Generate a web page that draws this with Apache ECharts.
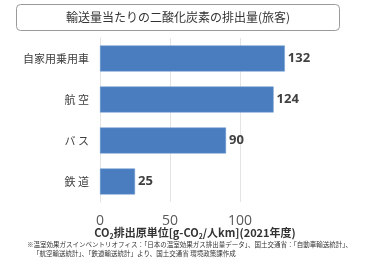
<!DOCTYPE html>
<html><head><meta charset="utf-8">
<script src="https://cdn.jsdelivr.net/npm/echarts@6/dist/echarts.min.js"></script>
<style>html,body{margin:0;padding:0;background:#fff;}#c{width:367px;height:262px;}</style>
</head><body><div id="c"></div>
<script>
const categories = ['自家用乗用車', '航 空', 'バ ス', '鉄 道'];
const values = [132, 124, 90, 25];
const tickValues = [0, 50, 100];
const titleText = '輸送量当たりの二酸化炭素の排出量(旅客)';
const footLine1 = '※温室効果ガスインベントリオフィス：「日本の温室効果ガス排出量データ」、国土交通省：「自動車輸送統計」、';
const footLine2 = '「航空輸送統計」、「鉄道輸送統計」より、国土交通省 環境政策課作成';

const chart = echarts.init(document.getElementById('c'), null, {renderer: 'canvas'});
const font = '"Noto Sans CJK JP", "Noto Sans", sans-serif';
const narrow = '"Liberation Sans Narrow", "Noto Sans CJK JP", sans-serif';
chart.setOption({
  backgroundColor: '#ffffff',
  animation: false,
  textStyle: {fontFamily: font},
  grid: {left: 100, right: 57, top: 38, bottom: 60, containLabel: false},
  xAxis: {
    type: 'value', min: 0, max: 150, interval: 50,
    axisLine: {show: false}, axisTick: {show: false},
    splitLine: {show: true, showMaxLine: false, lineStyle: {color: '#e4e4e4', width: 1}},
    axisLabel: {
      color: '#595959', fontSize: 14, margin: 12, fontFamily: '"Open Sans", "Noto Sans", sans-serif',
      formatter: v => tickValues.indexOf(v) >= 0 ? String(v) : ''
    }
  },
  yAxis: {
    type: 'category', data: categories, inverse: true,
    axisLine: {show: true, lineStyle: {color: '#e4e4e4'}},
    axisTick: {show: false},
    axisLabel: {color: '#404040', fontSize: 11, margin: 11, fontFamily: font}
  },
  series: [{
    type: 'bar', data: values, barWidth: 26,
    itemStyle: {color: '#4a7dbf', borderColor: '#6f9ad0', borderWidth: 0.5},
    label: {show: true, position: 'right', distance: 3, color: '#404040',
      fontSize: 13, fontWeight: 'bold', fontFamily: '"Open Sans", "Noto Sans", sans-serif'}
  }],
  graphic: [
    {type: 'rect', shape: {x: 16.5, y: 4.5, width: 323, height: 26, r: 4},
     style: {fill: '#fff', stroke: '#9a9a9a', lineWidth: 1}},
    {type: 'text', x: 178, y: 17.5,
     style: {text: titleText, fill: '#333', font: '12px ' + font, textAlign: 'center', textVerticalAlign: 'middle'}},
    {type: 'text', x: 195, y: 233,
     style: {
       text: '{a|CO}{s|2}{a|排出原単位[g-CO}{s|2}{a|/人km](2021年度)}',
       textAlign: 'center', textVerticalAlign: 'middle',
       rich: {
         a: {fontSize: 11, fill: '#333', fontWeight: 'bold', fontFamily: narrow},
         s: {fontSize: 7, fill: '#333', fontWeight: 'bold', fontFamily: narrow, padding: [6, 0, 0, 0]}
       }
     }},
    {type: 'text', x: 27, y: 245,
     style: {text: footLine1, fill: '#333', font: '6.5px ' + font, textVerticalAlign: 'middle'}},
    {type: 'text', x: 33, y: 253.5,
     style: {text: footLine2, fill: '#333', font: '6.5px ' + font, textVerticalAlign: 'middle'}}
  ]
});
</script></body></html>
